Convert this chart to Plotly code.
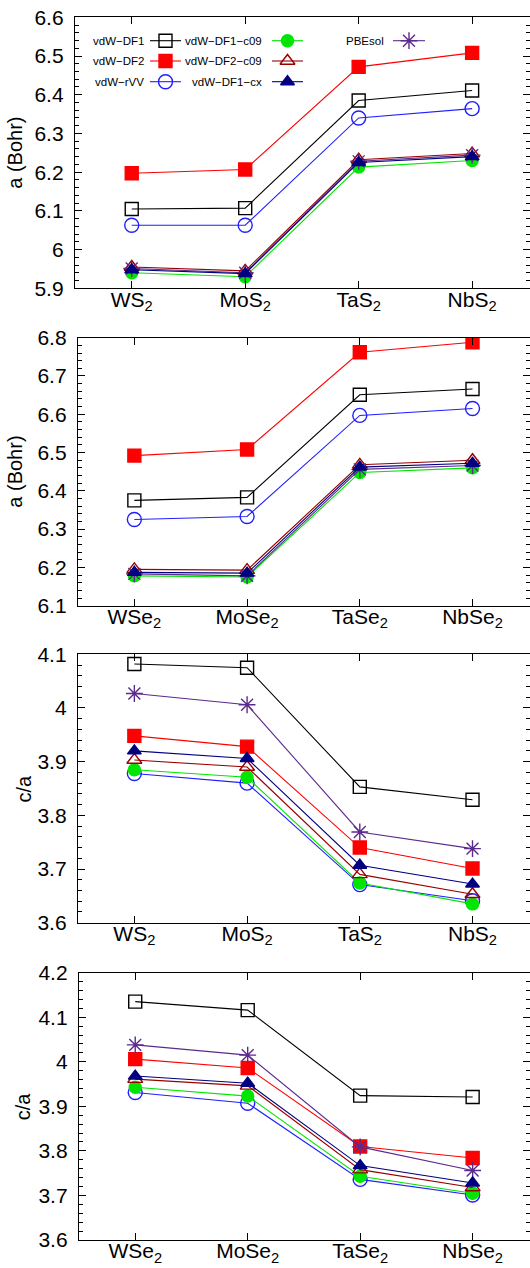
import plotly.graph_objects as go

# ---------------- data ----------------
sulfides = ["WS<sub>2</sub>", "MoS<sub>2</sub>", "TaS<sub>2</sub>", "NbS<sub>2</sub>"]
selenides = ["WSe<sub>2</sub>", "MoSe<sub>2</sub>", "TaSe<sub>2</sub>", "NbSe<sub>2</sub>"]

methods = ["vdW−DF1", "vdW−DF2", "vdW−rVV", "vdW−DF1−c09", "vdW−DF2−c09", "vdW−DF1−cx", "PBEsol"]

# lattice constant a (Bohr), sulfides
a_S_DF1 = [6.105, 6.107, 6.385, 6.411]
a_S_DF2 = [6.197, 6.207, 6.472, 6.508]
a_S_rVV = [6.063, 6.063, 6.340, 6.364]
a_S_DF1c09 = [5.940, 5.930, 6.213, 6.230]
a_S_DF2c09 = [5.955, 5.945, 6.232, 6.248]
a_S_DF1cx = [5.948, 5.938, 6.225, 6.240]
a_S_PBEsol = [5.951, 5.940, 6.228, 6.244]

# lattice constant a (Bohr), selenides
a_Se_DF1 = [6.375, 6.383, 6.651, 6.666]
a_Se_DF2 = [6.492, 6.508, 6.762, 6.788]
a_Se_rVV = [6.325, 6.333, 6.597, 6.615]
a_Se_DF1c09 = [6.178, 6.175, 6.448, 6.460]
a_Se_DF2c09 = [6.195, 6.193, 6.468, 6.480]
a_Se_DF1cx = [6.187, 6.185, 6.462, 6.472]
a_Se_PBEsol = [6.183, 6.178, 6.456, 6.466]

# c/a, sulfides
ca_S_DF1 = [4.082, 4.075, 3.853, 3.829]
ca_S_DF2 = [3.948, 3.928, 3.740, 3.701]
ca_S_rVV = [3.878, 3.860, 3.671, 3.641]
ca_S_DF1c09 = [3.885, 3.871, 3.674, 3.635]
ca_S_DF2c09 = [3.903, 3.890, 3.690, 3.653]
ca_S_DF1cx = [3.920, 3.906, 3.707, 3.672]
ca_S_PBEsol = [4.027, 4.006, 3.769, 3.738]

# c/a, selenides
ca_Se_DF1 = [4.135, 4.116, 3.924, 3.921]
ca_Se_DF2 = [4.006, 3.986, 3.810, 3.784]
ca_Se_rVV = [3.931, 3.907, 3.736, 3.701]
ca_Se_DF1c09 = [3.943, 3.923, 3.743, 3.705]
ca_Se_DF2c09 = [3.961, 3.946, 3.758, 3.718]
ca_Se_DF1cx = [3.968, 3.952, 3.767, 3.728]
ca_Se_PBEsol = [4.038, 4.015, 3.809, 3.756]

panels = [
    (sulfides, [a_S_DF1, a_S_DF2, a_S_rVV, a_S_DF1c09, a_S_DF2c09, a_S_DF1cx, a_S_PBEsol], "a (Bohr)", [5.9, 6.6]),
    (selenides, [a_Se_DF1, a_Se_DF2, a_Se_rVV, a_Se_DF1c09, a_Se_DF2c09, a_Se_DF1cx, a_Se_PBEsol], "a (Bohr)", [6.1, 6.8]),
    (sulfides, [ca_S_DF1, ca_S_DF2, ca_S_rVV, ca_S_DF1c09, ca_S_DF2c09, ca_S_DF1cx, ca_S_PBEsol], "c/a", [3.6, 4.1]),
    (selenides, [ca_Se_DF1, ca_Se_DF2, ca_Se_rVV, ca_Se_DF1c09, ca_Se_DF2c09, ca_Se_DF1cx, ca_Se_PBEsol], "c/a", [3.6, 4.2]),
]

# ---------------- styles ----------------
styles = [
    dict(color="#000000", symbol="square-open", size=13),
    dict(color="#ff0000", symbol="square", size=13),
    dict(color="#1f1fff", symbol="circle-open", size=14),
    dict(color="#00e600", symbol="circle", size=12),
    dict(color="#990000", symbol="triangle-up-open", size=13),
    dict(color="#000080", symbol="triangle-up", size=12),
    dict(color="#5c2a8c", symbol="asterisk-open", size=14),
]
draw_order = [0, 1, 2, 3, 4, 6, 5]

W, H = 530, 1268
FONT = "Liberation Sans, Arial, Helvetica, sans-serif"

# pixel geometry of panels: (left, top, bottom)
geom = [(75, 17.3, 288.3), (78, 337.7, 605.7), (78, 654.3, 922.7), (79, 972.7, 1240.0)]

fig = go.Figure()
layout = dict(
    width=W, height=H,
    margin=dict(l=0, r=0, t=0, b=0, pad=0, autoexpand=False),
    paper_bgcolor="white", plot_bgcolor="rgba(0,0,0,0)",
    showlegend=False,
    font=dict(family=FONT, color="black"),
)
annotations = []

for p, (cats, series, ytitle, yr) in enumerate(panels):
    n = p + 1
    xa = "x" if n == 1 else f"x{n}"
    ya = "y" if n == 1 else f"y{n}"
    left, top, bot = geom[p]
    for k in draw_order:
        st = styles[k]
        fig.add_trace(go.Scatter(
            x=list(range(len(cats))), y=series[k], mode="lines+markers",
            xaxis=xa, yaxis=ya, name=methods[k],
            line=dict(color=st["color"], width=1.1),
            marker=dict(symbol=st["symbol"], size=st["size"], color=st["color"],
                        line=dict(color=st["color"], width=1.4)),
        ))
    layout["xaxis" if n == 1 else f"xaxis{n}"] = dict(
        domain=[left / W, 1.0], anchor=ya, range=[-0.5, 3.51],
        tickvals=list(range(len(cats))), ticktext=cats,
        ticks="inside", ticklen=7, tickwidth=1, tickcolor="black",
        showline=True, linecolor="black", linewidth=1.3, mirror="allticks",
        showgrid=False, zeroline=False, automargin=False,
        tickfont=dict(family=FONT, size=21, color="black"),
        ticklabelstandoff=-8,
    )
    layout["yaxis" if n == 1 else f"yaxis{n}"] = dict(
        domain=[1 - bot / H, 1 - top / H], anchor=xa, range=yr,
        dtick=0.1, tick0=0,
        ticks="inside", ticklen=7, tickwidth=1, tickcolor="black",
        minor=dict(dtick=0.02, ticks="inside", ticklen=4, tickwidth=1, tickcolor="black"),
        showline=True, linecolor="black", linewidth=1.3, mirror="allticks",
        showgrid=False, zeroline=False, automargin=False,
        tickfont=dict(family=FONT, size=21, color="black"),
        ticklabelstandoff=6,
    )
    annotations.append(dict(
        text=ytitle, textangle=-90, x=(15 if ytitle.startswith("a") else 23) / W,
        y=1 - (top + bot) / 2 / H, xref="paper", yref="paper",
        showarrow=False, font=dict(family=FONT, size=20, color="black"),
        xanchor="center", yanchor="middle",
    ))

# ---------------- manual gnuplot-style legend (pixel overlay axis) ----------------
leg_rows = [40.7, 61.0, 81.7]
leg_cols = [(146, 150, 181), (264, 272, 303), (386, 393, 425)]
leg_slots = [(0, 0), (1, 0), (2, 0), (0, 1), (1, 1), (2, 1), (0, 2)]  # (row, col) for each method
layout["xaxis9"] = dict(domain=[0, 1], range=[0, W], visible=False, anchor="y9", fixedrange=True)
layout["yaxis9"] = dict(domain=[0, 1], range=[H, 0], visible=False, anchor="x9", fixedrange=True)
for k, (r, c) in enumerate(leg_slots):
    st = styles[k]
    ty = leg_rows[r]
    tx, x0, x1 = leg_cols[c]
    fig.add_trace(go.Scatter(
        x=[x0, x1], y=[ty, ty], mode="lines", xaxis="x9", yaxis="y9",
        line=dict(color=st["color"], width=1.1), hoverinfo="skip",
    ))
    fig.add_trace(go.Scatter(
        x=[(x0 + x1) / 2], y=[ty], mode="markers", xaxis="x9", yaxis="y9",
        marker=dict(symbol=st["symbol"], size=st["size"], color=st["color"],
                    line=dict(color=st["color"], width=1.4)),
        hoverinfo="skip",
    ))
    annotations.append(dict(
        text=methods[k], x=tx, y=ty, xref="x9", yref="y9", showarrow=False,
        xanchor="right", yanchor="middle",
        font=dict(family=FONT, size=11.5, color="black"),
    ))

layout["annotations"] = annotations
fig.update_layout(**layout)
fig.write_html("out.html", config={"displayModeBar": False},
               post_script="document.body.style.margin='0';document.body.style.overflow='hidden';")
